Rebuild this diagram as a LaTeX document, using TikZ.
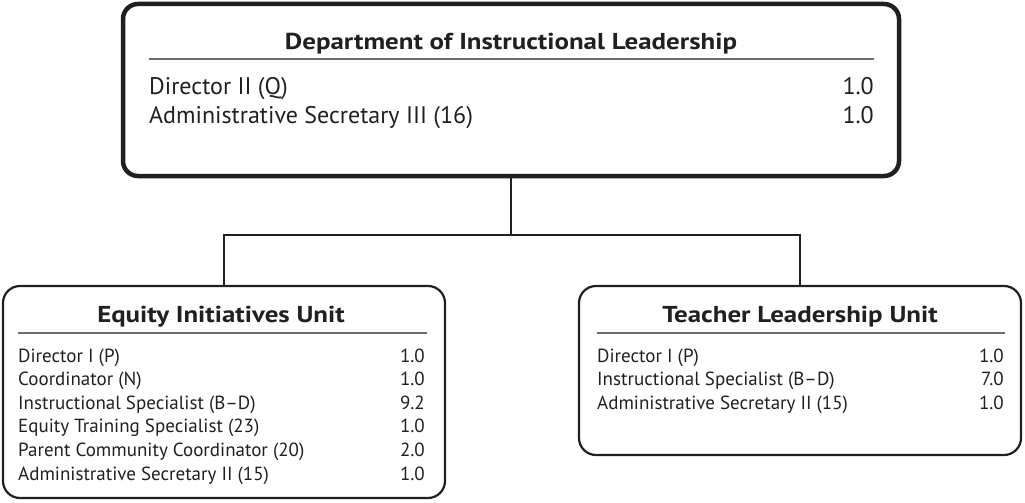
\documentclass[tikz,border=0pt]{standalone}
\usepackage{fontspec}
\setmainfont{PT Sans}
\newfontfamily\titlefont[FakeStretch=1.17]{PT Sans}
\definecolor{ink}{HTML}{231F20}
\definecolor{rulegray}{HTML}{6D6E71}

\begin{document}
\begin{tikzpicture}[x=1pt,y=-1pt,
  mainbox/.style={draw=ink, line width=4.5pt, rounded corners=15pt,
    minimum width=776pt, minimum height=172pt},
  unitbox/.style={draw=ink, line width=2.2pt, rounded corners=17pt,
    minimum width=442pt},
  link/.style={draw=ink, line width=2.5pt},
  headrule/.style={draw=rulegray, line width=1.3pt},
  bigtitle/.style={font=\fontsize{23}{27}\titlefont\bfseries, text=ink, inner sep=0pt, anchor=base},
  unittitle/.style={font=\fontsize{23}{27}\titlefont\bfseries, text=ink, inner sep=0pt, anchor=base},
  bigrow/.style={font=\fontsize{24}{28}\selectfont, text=ink, inner sep=0pt},
  smallrow/.style={font=\fontsize{19}{22}\selectfont, text=ink, inner sep=0pt},
]
\useasboundingbox (0,0) rectangle (1025,503);

% boxes
\node[mainbox] (dept) at (511,90) {};
\node[unitbox, minimum height=212pt] (equity) at (224,392) {};
\node[unitbox, minimum height=169pt] (teacher) at (800,370.5) {};

% department
\node[bigtitle] (depttitle) at (511,50) {Department of Instructional Leadership};
\draw[headrule] (149,59) -- (874,59);
\node[bigrow, anchor=base west] (dirq) at (149,94) {Director II (Q)};
\node[bigrow, anchor=base east] (dirqfte) at (874,94) {1.0};
\node[bigrow, anchor=base west] (sec16) at (149,123) {Administrative Secretary III (16)};
\node[bigrow, anchor=base east] (sec16fte) at (874,123) {1.0};

% equity initiatives unit
\node[unittitle] (equitytitle) at (221,322) {Equity Initiatives Unit};
\draw[headrule] (18,333) -- (427,333);
\node[smallrow, anchor=base west] (eqdir) at (18,362) {Director I (P)};
\node[smallrow, anchor=base east] (eqdirfte) at (425,362) {1.0};
\node[smallrow, anchor=base west] (eqcoord) at (18,385.6) {Coordinator (N)};
\node[smallrow, anchor=base east] (eqcoordfte) at (425,385.6) {1.0};
\node[smallrow, anchor=base west] (eqspec) at (18,409.2) {Instructional Specialist (B--D)};
\node[smallrow, anchor=base east] (eqspecfte) at (425,409.2) {9.2};
\node[smallrow, anchor=base west] (eqtrain) at (18,432.8) {Equity Training Specialist (23)};
\node[smallrow, anchor=base east] (eqtrainfte) at (425,432.8) {1.0};
\node[smallrow, anchor=base west] (eqparent) at (18,456.4) {Parent Community Coordinator (20)};
\node[smallrow, anchor=base east] (eqparentfte) at (425,456.4) {2.0};
\node[smallrow, anchor=base west] (eqsec) at (18,480) {Administrative Secretary II (15)};
\node[smallrow, anchor=base east] (eqsecfte) at (425,480) {1.0};

% teacher leadership unit
\node[unittitle] (teachertitle) at (800,322) {Teacher Leadership Unit};
\draw[headrule] (597,333) -- (1005,333);
\node[smallrow, anchor=base west] (tldir) at (597,362) {Director I (P)};
\node[smallrow, anchor=base east] (tldirfte) at (1004,362) {1.0};
\node[smallrow, anchor=base west] (tlspec) at (597,385.6) {Instructional Specialist (B--D)};
\node[smallrow, anchor=base east] (tlspecfte) at (1004,385.6) {7.0};
\node[smallrow, anchor=base west] (tlsec) at (597,409.2) {Administrative Secretary II (15)};
\node[smallrow, anchor=base east] (tlsecfte) at (1004,409.2) {1.0};

% connectors
\coordinate (split) at (511,235);
\draw[link] (dept.south) -- (split);
\draw[link] (equity.north) |- (split) -| (teacher.north);
\end{tikzpicture}
\end{document}
